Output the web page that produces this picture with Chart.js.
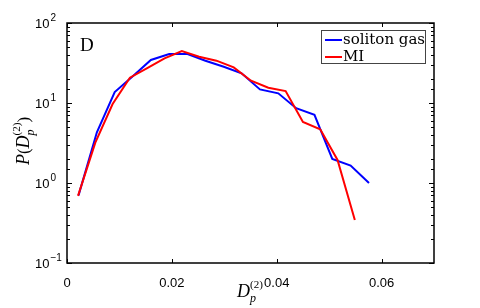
<!DOCTYPE html>
<html>
<head>
<meta charset="utf-8">
<script src="https://cdn.jsdelivr.net/npm/chart.js@4"></script>
<style>
  html, body { margin: 0; padding: 0; background: #fff; }
</style>
</head>
<body>
<canvas id="myChart" width="480" height="308"></canvas>
<script>
// distribution of D_p^(2) for soliton gas vs MI
const solitonX = [0.0022, 0.0057, 0.0091, 0.0126, 0.0160, 0.0195, 0.0230, 0.0264, 0.0299,
  0.0333, 0.0368, 0.0403, 0.0437, 0.0472, 0.0506, 0.0541, 0.0576];
const solitonY = [0.70, 4.3, 13.7, 21.8, 34.5, 41, 41, 33.8, 28.4,
  23.5, 14.8, 13.2, 8.6, 7.1, 2.0, 1.65, 1.0];
const miX = [0.0021, 0.0054, 0.0087, 0.0120, 0.0153, 0.0186, 0.0219, 0.0252, 0.0285,
  0.0318, 0.0351, 0.0384, 0.0417, 0.0450, 0.0483, 0.0516, 0.0549];
const miY = [0.69, 3.2, 9.7, 20.7, 27.2, 36.2, 44.7, 37.9, 33.8,
  27.9, 19.0, 15.5, 14.1, 5.8, 4.7, 1.94, 0.345];

const xTicks = [0, 0.02, 0.04, 0.06];
const yDecades = [0.1, 1, 10, 100];
const yExponents = ['\u22121', '0', '1', '2'];
const seriesNames = ['soliton gas', 'MI'];
const panelLabel = 'D';

const toPoints = (xs, ys) => xs.map((v, i) => ({ x: v, y: ys[i] }));

// draws a run of text pieces centred on cx; a piece with stack:true shares
// its x position with the next piece (subscript under superscript)
function richText(ctx, parts, cx, cy) {
  const widths = parts.map(p => { ctx.font = p.font; return ctx.measureText(p.t).width; });
  let w = 0;
  parts.forEach((p, i) => {
    if (p.stack) return;
    const prev = i > 0 && parts[i - 1].stack ? widths[i - 1] : 0;
    w += Math.max(widths[i], prev);
  });
  let xx = cx - w / 2;
  parts.forEach((p, i) => {
    ctx.font = p.font;
    ctx.fillText(p.t, xx, cy + (p.dy || 0));
    if (p.stack) return;
    const prev = i > 0 && parts[i - 1].stack ? widths[i - 1] : 0;
    xx += Math.max(widths[i], prev);
  });
}

const framePlugin = {
  id: 'frame',
  afterDraw(chart) {
    const { ctx, chartArea: { left, right, top, bottom }, scales: { x, y } } = chart;
    ctx.save();
    ctx.strokeStyle = '#000';
    ctx.fillStyle = '#000';
    ctx.lineWidth = 1.5;
    ctx.strokeRect(left, top, right - left, bottom - top);

    ctx.lineWidth = 1;
    ctx.beginPath();
    xTicks.forEach(v => {
      const px = Math.round(x.getPixelForValue(v)) + 0.5;
      ctx.moveTo(px, bottom); ctx.lineTo(px, bottom - 4);
      ctx.moveTo(px, top); ctx.lineTo(px, top + 4);
    });
    y.ticks.forEach(t => {
      const py = Math.round(y.getPixelForValue(t.value)) + 0.5;
      const len = yDecades.includes(t.value) ? 5 : 3;
      ctx.moveTo(left, py); ctx.lineTo(left + len, py);
      ctx.moveTo(right, py); ctx.lineTo(right - len, py);
    });
    ctx.stroke();

    // y tick labels 10^n
    ctx.textAlign = 'left';
    yDecades.forEach((v, i) => {
      const py = y.getPixelForValue(v);
      ctx.font = '13px "Liberation Sans", Arial, sans-serif';
      ctx.textBaseline = 'middle';
      ctx.fillText('10', 35, py + 1);
      const w = ctx.measureText('10').width;
      ctx.font = '10px "Liberation Sans", Arial, sans-serif';
      ctx.textBaseline = 'alphabetic';
      ctx.fillText(yExponents[i], 35 + w + 1, py - 2);
    });

    // panel letter
    ctx.font = '19px "Liberation Serif", "DejaVu Serif", serif';
    ctx.textBaseline = 'alphabetic';
    ctx.fillText(panelLabel, 80, 51);

    // legend box
    const lx = 321.5, ly = 30.5, lw = 104, lh = 33;
    ctx.fillStyle = '#fff';
    ctx.fillRect(lx, ly, lw, lh);
    ctx.strokeStyle = '#444';
    ctx.lineWidth = 1;
    ctx.strokeRect(lx, ly, lw, lh);
    const colors = chart.data.datasets.map(d => d.borderColor);
    ctx.font = '15px "DejaVu Serif", serif';
    ctx.textBaseline = 'middle';
    ctx.fillStyle = '#000';
    seriesNames.forEach((name, i) => {
      const yy = 40 + i * 17;
      ctx.strokeStyle = colors[i];
      ctx.lineWidth = 2;
      ctx.beginPath(); ctx.moveTo(325, yy); ctx.lineTo(342, yy); ctx.stroke();
      ctx.fillText(name, 343, yy);
    });

    // axis titles
    ctx.textBaseline = 'alphabetic';
    const big = 'italic 18px "Liberation Serif", "DejaVu Serif", serif';
    const norm = '17px "Liberation Serif", "DejaVu Serif", serif';
    const small = 'italic 12px "Liberation Serif", serif';
    const smallN = '11px "Liberation Serif", serif';
    richText(ctx, [
      { t: 'D', font: big },
      { t: 'p', font: small, dy: 5, stack: true },
      { t: '(2)', font: smallN, dy: -9 }
    ], 250, 297);

    ctx.translate(29, (top + bottom) / 2 - 2);
    ctx.rotate(-Math.PI / 2);
    richText(ctx, [
      { t: 'P', font: big },
      { t: '(', font: norm },
      { t: 'D', font: big },
      { t: 'p', font: small, dy: 5, stack: true },
      { t: '(2)', font: smallN, dy: -9 },
      { t: ')', font: norm }
    ], 0, 0);
    ctx.restore();
  }
};

new Chart(document.getElementById('myChart'), {
  type: 'line',
  data: {
    datasets: [
      {
        label: seriesNames[0],
        data: toPoints(solitonX, solitonY),
        borderColor: '#0000ff',
        borderWidth: 2,
        pointRadius: 0,
        tension: 0,
        order: 1,
      },
      {
        label: seriesNames[1],
        data: toPoints(miX, miY),
        borderColor: '#ff0000',
        borderWidth: 2,
        pointRadius: 0,
        tension: 0,
        order: 0,
      },
    ],
  },
  options: {
    responsive: false,
    animation: false,
    devicePixelRatio: 1,
    layout: { padding: { top: 23, right: 46, left: 0, bottom: 0 } },
    plugins: { legend: { display: false }, tooltip: { enabled: false } },
    scales: {
      x: {
        type: 'linear',
        min: 0,
        max: 0.07,
        afterBuildTicks: s => { s.ticks = xTicks.map(v => ({ value: v })); },
        afterFit: s => { s.height = 45; },
        grid: { display: false },
        border: { display: false },
        ticks: {
          color: '#000',
          padding: 5,
          maxRotation: 0,
          font: { family: '"Liberation Sans", Arial, sans-serif', size: 13 },
          callback: v => (v === 0 ? '0' : v.toFixed(2)),
        },
      },
      y: {
        type: 'logarithmic',
        min: 0.1,
        max: 100,
        afterFit: s => { s.width = 67; },
        grid: { display: false },
        border: { display: false },
        ticks: { display: false },
      },
    },
  },
  plugins: [framePlugin],
});
</script>
</body>
</html>
